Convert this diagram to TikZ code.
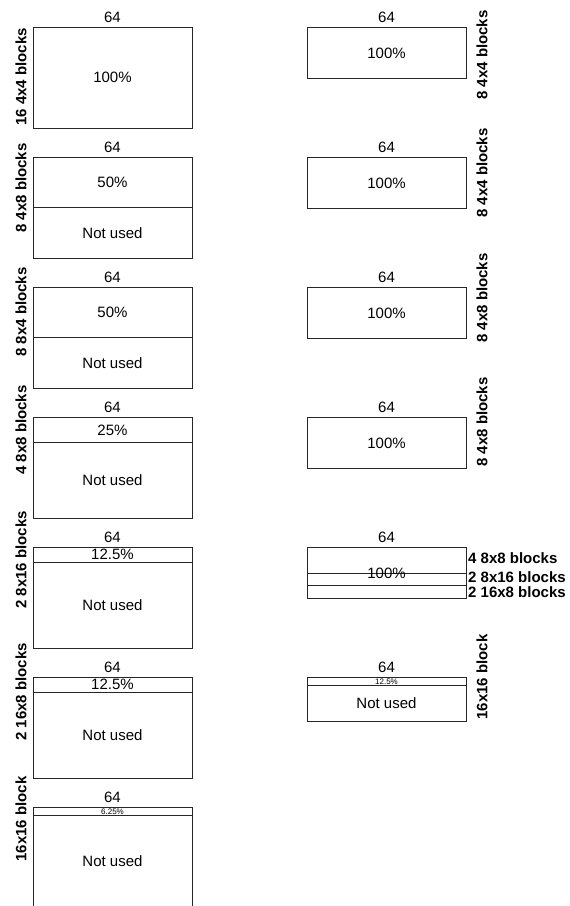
\documentclass[tikz,border=0pt]{standalone}
\usepackage{fontspec}
\setmainfont{Liberation Sans}
\usetikzlibrary{positioning}
\newcommand{\tinypct}{\fontsize{8}{9}\selectfont}
\tikzset{
  part/.style={draw=black!85,line width=0.8pt,minimum width=159pt,inner sep=0pt,
               outer sep=0pt,font=\fontsize{15}{17}\selectfont},
  pcttext/.style={inner sep=0pt,font=\fontsize{15}{17}\selectfont},
  widthlbl/.style={inner sep=0pt,font=\fontsize{15}{17}\selectfont},
  sidelbl/.style={inner sep=0pt,font=\fontsize{15}{17}\selectfont\bfseries},
}
\newcommand{\fullbox}[4]{% name, x, top, height
  \node[part,minimum height=#4pt,anchor=north west] (#1u) at (#2,#3) {};
  \node[pcttext] (#1p) at (#1u.center) {100\%};
  \node[widthlbl] (#1w) at ([yshift=10pt]#1u.north) {64};
}
\newcommand{\splitbox}[6]{% name, x, top, total height, used height, used text
  \pgfmathsetmacro{\resth}{#4-#5}
  \node[part,minimum height=#5pt,anchor=north west] (#1u) at (#2,#3) {};
  \node[pcttext] (#1p) at (#1u.center) {#6};
  \node[part,minimum height=\resth pt,below=0pt of #1u] (#1n) {Not used};
  \node[widthlbl] (#1w) at ([yshift=10pt]#1u.north) {64};
}

\begin{document}
\begin{tikzpicture}[x=1pt,y=-1pt]
  \useasboundingbox (0,0) rectangle (570,906);
  % left column
  \fullbox{l1}{33}{27.5}{100.5}
  \foreach \nm/\tp/\uh/\pc in {l2/157.5/50/50\%, l3/287.5/50/50\%, l4/417.5/25/25\%,
                               l5/547.5/14.5/12.5\%, l6/677.5/14.5/12.5\%,
                               l7/807.5/7.5/{\tinypct 6.25\%}} {
    \splitbox{\nm}{33}{\tp}{100.5}{\uh}{\pc}
  }
  % right column
  \foreach \nm/\tp in {r1/27.5, r2/157.5, r3/287.5, r4/417.5} {
    \fullbox{\nm}{307}{\tp}{51}
  }
  \node[part,minimum height=26pt,anchor=north west] (r5a) at (307,547.5) {};
  \node[part,minimum height=12pt,below=0pt of r5a] (r5b) {};
  \node[part,minimum height=13pt,below=0pt of r5b] (r5c) {};
  \node[pcttext] (r5p) at (r5b.north) {100\%};
  \node[widthlbl] (r5w) at ([yshift=10pt]r5a.north) {64};
  \node[sidelbl,anchor=west] (r5la) at ([xshift=2pt,yshift=2pt]r5a.east) {4 8x8 blocks};
  \node[sidelbl,anchor=west] (r5lb) at ([xshift=2pt,yshift=2pt]r5b.east) {2 8x16 blocks};
  \node[sidelbl,anchor=west] (r5lc) at ([xshift=2pt]r5c.east) {2 16x8 blocks};
  \splitbox{r6}{307}{677.5}{43.5}{8}{\tinypct 12.5\%}
  % block labels
  \foreach \nm/\xx/\yy/\txt in {sl1/21/77/16 4x4 blocks, sl2/21/188/8 4x8 blocks,
                                sl3/21/312/8 8x4 blocks, sl4/21/430/4 8x8 blocks,
                                sl5/21/560/2 8x16 blocks, sl6/21/692/2 16x8 blocks,
                                sl7/21/819/16x16 block,
                                sr1/482/55/8 4x4 blocks, sr2/482/173/8 4x4 blocks,
                                sr3/482/298/8 4x8 blocks, sr4/482/422/8 4x8 blocks,
                                sr6/482/677/16x16 block} {
    \node[sidelbl,rotate=90] (\nm) at (\xx,\yy) {\txt};
  }
\end{tikzpicture}
\end{document}
